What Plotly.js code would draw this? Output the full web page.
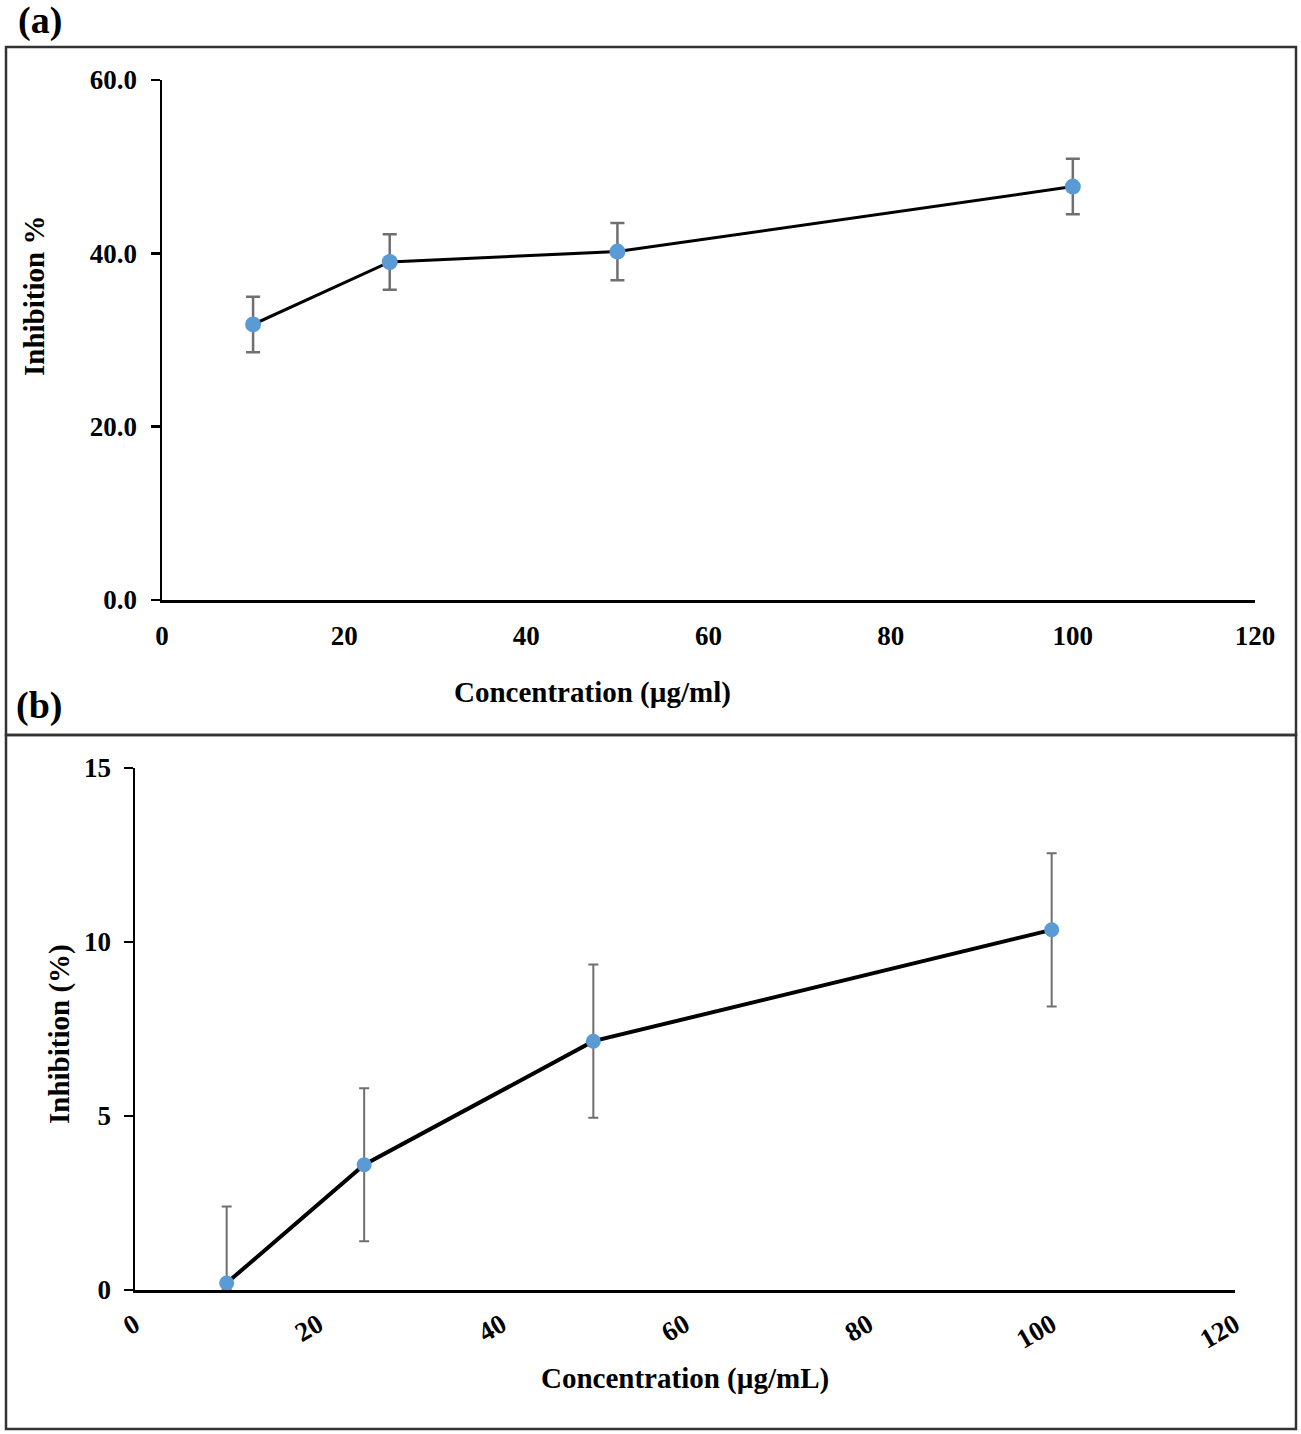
<!DOCTYPE html>
<html>
<head>
<meta charset="utf-8">
<script src="https://cdn.plot.ly/plotly-3.0.1.min.js"></script>
<style>html,body{margin:0;padding:0;background:#fff;}#chart{width:1301px;height:1434px;}</style>
</head>
<body>
<div id="chart"></div>
<script>
// Panel (a)
const concA = [10, 25, 50, 100];
const inhibA = [31.8, 39.0, 40.2, 47.7];
const errA = [3.2, 3.2, 3.3, 3.2];
// Panel (b)
const concB = [10, 25, 50, 100];
const inhibB = [0.2, 3.6, 7.15, 10.35];
const errBPlus = [2.2, 2.2, 2.2, 2.2];
const errBMinus = [0.2, 2.2, 2.2, 2.2];

const xTicks = [0, 20, 40, 60, 80, 100, 120];
const yTicksA = [0, 20, 40, 60];
const yTicksB = [0, 5, 10, 15];

const W = 1301, H = 1434;
const px = v => v / W;
const py = v => 1 - v / H;
const FONT = 'Liberation Serif, Times New Roman, serif';
const BLUE = '#5B9BD5';

const traces = [
  {
    x: concA, y: inhibA, type: 'scatter', mode: 'lines+markers',
    xaxis: 'x', yaxis: 'y',
    line: {color: '#000', width: 3},
    marker: {color: BLUE, size: 16},
    error_y: {type: 'data', array: errA, visible: true, color: '#6f6f6f', thickness: 2.5, width: 7},
    cliponaxis: false
  },
  {
    x: concB, y: inhibB, type: 'scatter', mode: 'lines+markers',
    xaxis: 'x2', yaxis: 'y2',
    line: {color: '#000', width: 4},
    marker: {color: BLUE, size: 15},
    error_y: {type: 'data', symmetric: false, array: errBPlus, arrayminus: errBMinus, visible: true, color: '#6f6f6f', thickness: 2, width: 5},
    cliponaxis: false
  }
];

const tickFont = {family: FONT, size: 27, color: '#000', weight: 'bold'};
const titleFont = {family: FONT, size: 29, color: '#000', weight: 'bold'};

const layout = {
  width: W, height: H,
  margin: {l: 0, r: 0, t: 0, b: 0},
  paper_bgcolor: '#fff', plot_bgcolor: '#fff',
  showlegend: false,
  xaxis: {
    domain: [px(162), px(1255)], range: [0, 120], tickvals: xTicks,
    showline: true, linecolor: '#000', linewidth: 2.5, showgrid: false, zeroline: false,
    ticks: '', tickfont: tickFont, ticklabelstandoff: 10, anchor: 'y'
  },
  yaxis: {
    domain: [py(600), py(80)], range: [0, 60], tickvals: yTicksA, tickformat: '.1f',
    showline: true, linecolor: '#000', linewidth: 2.5, showgrid: false, zeroline: false,
    ticks: 'outside', ticklen: 9, tickwidth: 2.5, tickcolor: '#000',
    tickfont: tickFont, ticklabelstandoff: 8, anchor: 'x'
  },
  xaxis2: {
    domain: [px(135), px(1235)], range: [0, 120], tickvals: xTicks,
    showline: true, linecolor: '#000', linewidth: 2.5, showgrid: false, zeroline: false,
    ticks: '', tickfont: tickFont, tickangle: -30, ticklabelstandoff: 6, anchor: 'y2'
  },
  yaxis2: {
    domain: [py(1290), py(768)], range: [0, 15], tickvals: yTicksB,
    showline: true, linecolor: '#000', linewidth: 2.5, showgrid: false, zeroline: false,
    ticks: 'outside', ticklen: 9, tickwidth: 2.5, tickcolor: '#000',
    tickfont: tickFont, ticklabelstandoff: 7, anchor: 'x2'
  },
  shapes: [
    {type: 'rect', xref: 'paper', yref: 'paper', x0: px(6), x1: px(1296), y0: py(735), y1: py(47), line: {color: '#333', width: 2.5}},
    {type: 'rect', xref: 'paper', yref: 'paper', x0: px(6), x1: px(1296), y0: py(1429), y1: py(735), line: {color: '#333', width: 2.5}}
  ],
  annotations: [
    {text: '(a)', xref: 'paper', yref: 'paper', x: px(16), y: py(20), xanchor: 'left', yanchor: 'middle', showarrow: false, font: {family: FONT, size: 38, color: '#000', weight: 'bold'}},
    {text: '(b)', xref: 'paper', yref: 'paper', x: px(14), y: py(705), xanchor: 'left', yanchor: 'middle', showarrow: false, font: {family: FONT, size: 38, color: '#000', weight: 'bold'}},
    {text: 'Inhibition %', xref: 'paper', yref: 'paper', x: px(34), y: py(296), xanchor: 'center', yanchor: 'middle', textangle: -90, showarrow: false, font: titleFont},
    {text: 'Concentration (µg/ml)', xref: 'paper', yref: 'paper', x: px(592), y: py(693), xanchor: 'center', yanchor: 'middle', showarrow: false, font: titleFont},
    {text: 'Inhibition (%)', xref: 'paper', yref: 'paper', x: px(59), y: py(1034), xanchor: 'center', yanchor: 'middle', textangle: -90, showarrow: false, font: titleFont},
    {text: 'Concentration (µg/mL)', xref: 'paper', yref: 'paper', x: px(685), y: py(1378), xanchor: 'center', yanchor: 'middle', showarrow: false, font: titleFont}
  ]
};

Plotly.newPlot('chart', traces, layout, {displayModeBar: false, staticPlot: true});
</script>
</body>
</html>
